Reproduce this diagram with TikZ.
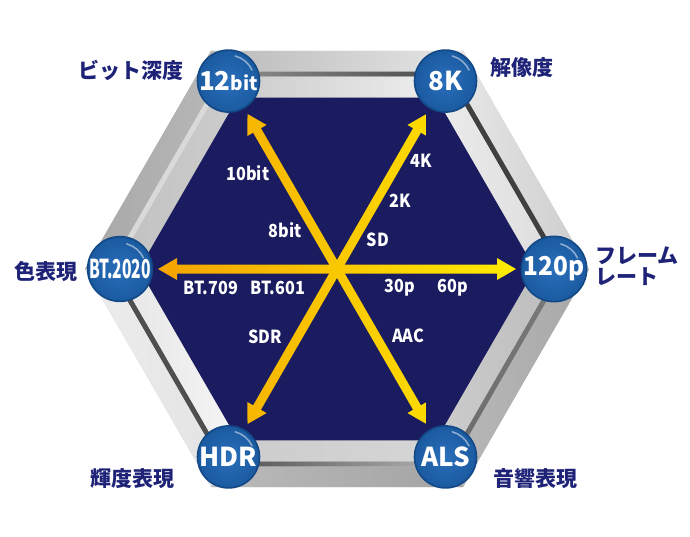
\documentclass[tikz,border=0pt]{standalone}
\usepackage{fontspec}
\usepackage{graphicx}
\usetikzlibrary{calc}
\newfontfamily\jp{Noto Sans CJK JP}
\newfontfamily\jpc[FakeStretch=0.9]{Noto Sans CJK JP}
\definecolor{navyC}{HTML}{1B1B5F}
\definecolor{labelC}{HTML}{1E2378}
\definecolor{ballin}{HTML}{2A6FBA}
\definecolor{ballout}{HTML}{1A5AA0}
\definecolor{ballrim}{HTML}{124886}
\definecolor{arrowL}{HTML}{F4A000}
\definecolor{arrowM}{HTML}{FFE200}
\definecolor{arrowR}{HTML}{FFF000}
\tikzset{
  ball/.style={circle, minimum size=62pt, inner sep=0pt, inner color=ballin, outer color=ballout,
    draw=ballrim, line width=1.6pt, text=white, font=\jp\bfseries\fontsize{26}{26}\selectfont},
  inlabel/.style={text=white, font=\jpc\bfseries\fontsize{18}{18}\selectfont, inner sep=0pt},
  jplabel/.style={text=labelC, font=\jp\bfseries\fontsize{21}{21}\selectfont, inner sep=0pt},
}
\newcommand\sidebands[8]{%
  \shade[left color=#3,right color=#4] (A#1)--(A#2)--(G#2)--(G#1)--cycle;
  \shade[left color=#5,right color=#6] (G#1)--(G#2)--(H#2)--(H#1)--cycle;
  \shade[left color=#7,right color=#8] (H#1)--(H#2)--(N#2)--(N#1)--cycle;}
\begin{document}
\begin{tikzpicture}[x=1pt,y=-1pt]
\useasboundingbox (0,0) rectangle (690,536);
\coordinate (O) at (337,269);
\foreach \k in {0,...,6} {
  \coordinate (A\k) at ($(O)+(\k*60:252)$);
  \coordinate (G\k) at ($(O)+(\k*60:228)$);
  \coordinate (H\k) at ($(O)+(\k*60:222)$);
  \coordinate (N\k) at ($(O)+(\k*60:198)$);
  \coordinate (B\k) at ($(O)+(\k*60:217)$);
}
% frame base
\fill[black!22] (A0)--(A1)--(A2)--(A3)--(A4)--(A5)--cycle;
% sides: top, upper-right, lower-right, bottom, lower-left, upper-left
\sidebands{4}{5}{black!27}{black!10}{black!44}{black!71}{black!21}{black!6}
\sidebands{5}{6}{black!9}{black!20}{black!75}{black!75}{black!8}{black!13}
\sidebands{0}{1}{black!28}{black!34}{black!58}{black!52}{black!20}{black!26}
\sidebands{1}{2}{black!27}{black!36}{black!69}{black!29}{black!20}{black!16}
\sidebands{2}{3}{black!7}{black!11}{black!69}{black!69}{black!10}{black!4}
\sidebands{3}{4}{black!34}{black!28}{black!15}{black!15}{black!24}{black!20}
% navy field
\fill[navyC] (N0)--(N1)--(N2)--(N3)--(N4)--(N5)--cycle;
% arrows
\foreach \a in {0,60,...,300} {
  \begin{scope}
    \clip[shift={(O)}, rotate=\a] (0,-4.5) -- (160,-4.5) -- (160,-11) -- (179,0)
      -- (160,11) -- (160,4.5) -- (0,4.5) -- cycle;
    \shade[left color=arrowL, middle color=arrowM, right color=arrowR] (140,90) rectangle (535,450);
  \end{scope}
}
% inner labels
\node[inlabel] (l10bit) at (248,173) {10bit};
\node[inlabel] (l8bit) at (285,230) {8bit};
\node[inlabel] (l4k) at (421,161) {4K};
\node[inlabel] (l2k) at (400,201) {2K};
\node[inlabel] (lsd) at (378,240) {SD};
\node[inlabel] (l709) at (211,288) {BT.709};
\node[inlabel] (l601) at (278,288) {BT.601};
\node[inlabel] (l30p) at (400,288) {30p};
\node[inlabel] (l60p) at (453,288) {60p};
\node[inlabel] (lsdr) at (265,337) {SDR};
\node[inlabel] (laac) at (408,336) {AAC};
% balls
\node[ball] (b12) at (B4) {12{\fontsize{19}{19}\selectfont bit}};
\node[ball] (b8k) at (B5) {8K};
\node[ball] (b120) at (B0) {\scalebox{0.94}[1]{120p}};
\node[ball] (bals) at (B1) {ALS};
\node[ball] (bhdr) at (B2) {HDR};
\node[ball] (bbt) at (B3) {\scalebox{0.6}[1]{BT.2020}};
\foreach \n in {b12,b8k,b120,bals,bhdr,bbt}
  \draw[white, opacity=.5, line width=1.5pt, line cap=round] (\n.center) ++(-75:26) arc[start angle=-75, end angle=-25, radius=26];
% outer labels
\node[jplabel] (t12) at (131,70) {ビット深度};
\node[jplabel] (t8k) at (522,68) {解像度};
\node[jplabel, anchor=west, align=left] (t120) at (595,266) {フレーム\\レート};
\node[jplabel] (tbt) at (46,272) {色表現};
\node[jplabel] (thdr) at (132,479) {輝度表現};
\node[jplabel] (tals) at (535,479) {音響表現};
\end{tikzpicture}
\end{document}
